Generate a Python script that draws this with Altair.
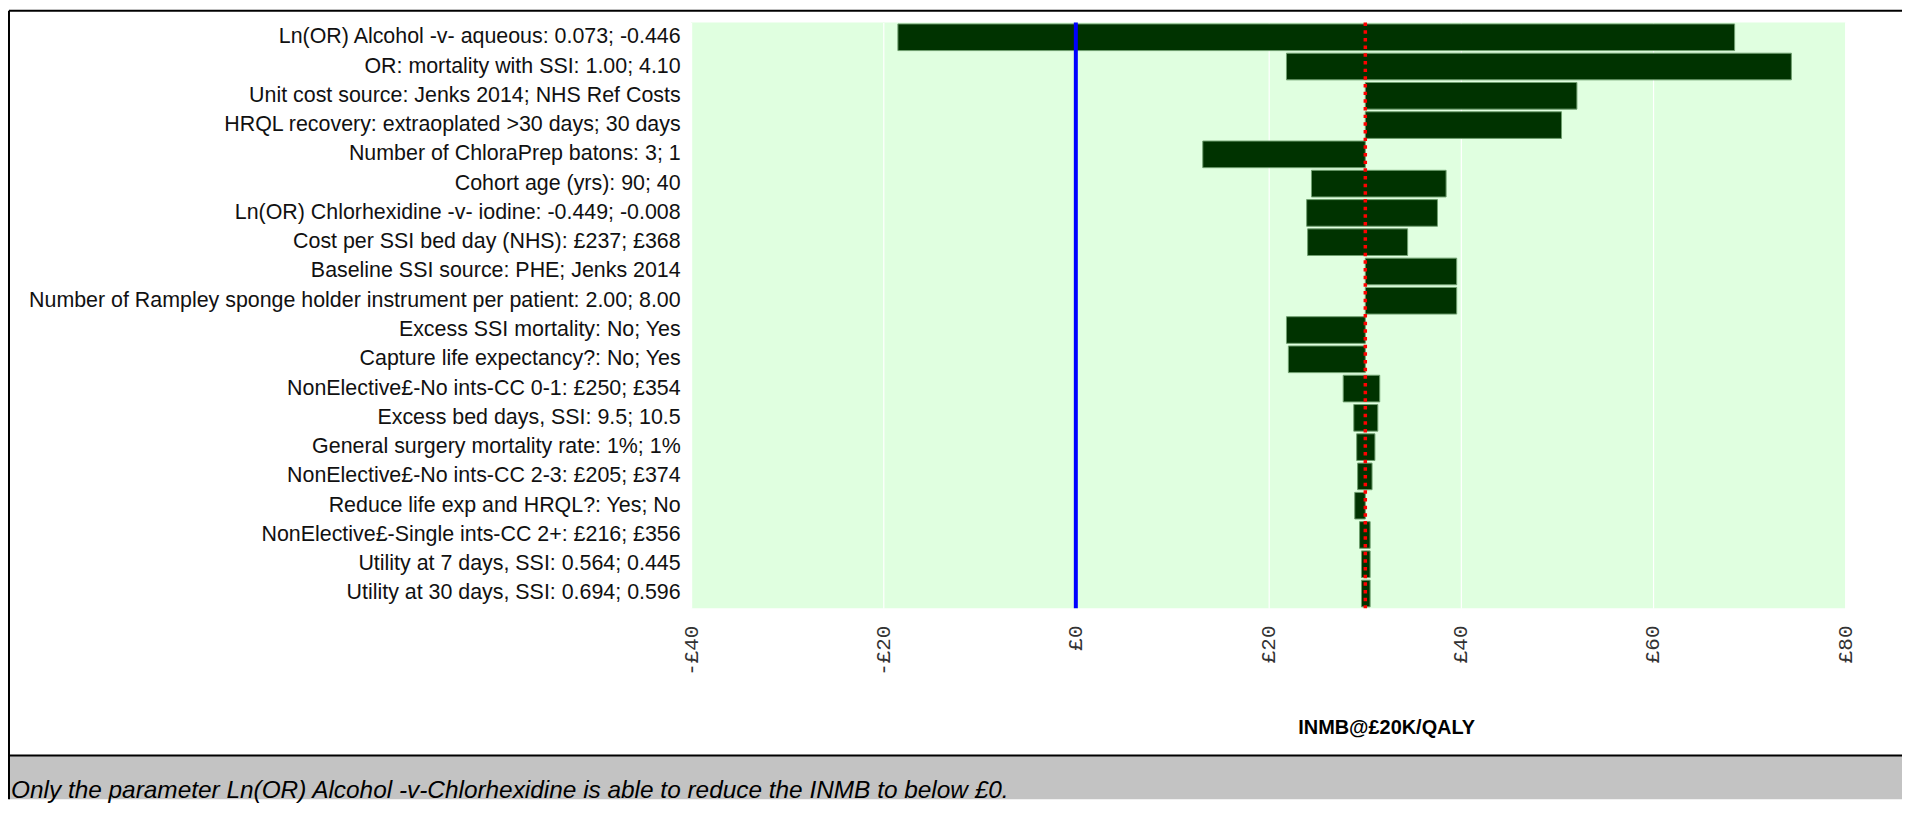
import altair as alt
import pandas as pd

# ---- data ----
params = [
    "Ln(OR) Alcohol -v- aqueous: 0.073; -0.446",
    "OR: mortality with SSI: 1.00; 4.10",
    "Unit cost source: Jenks 2014; NHS Ref Costs",
    "HRQL recovery: extraoplated >30 days; 30 days",
    "Number of ChloraPrep batons: 3; 1",
    "Cohort age (yrs): 90; 40",
    "Ln(OR) Chlorhexidine -v- iodine: -0.449; -0.008",
    "Cost per SSI bed day (NHS): £237; £368",
    "Baseline SSI source: PHE; Jenks 2014",
    "Number of Rampley sponge holder instrument per patient: 2.00; 8.00",
    "Excess SSI mortality: No; Yes",
    "Capture life expectancy?: No; Yes",
    "NonElective£-No ints-CC 0-1: £250; £354",
    "Excess bed days, SSI: 9.5; 10.5",
    "General surgery mortality rate: 1%; 1%",
    "NonElective£-No ints-CC 2-3: £205; £374",
    "Reduce life exp and HRQL?: Yes; No",
    "NonElective£-Single ints-CC 2+: £216; £356",
    "Utility at 7 days, SSI: 0.564; 0.445",
    "Utility at 30 days, SSI: 0.694; 0.596",
]
bar_left = [-18.5, 21.9, 30.1, 30.1, 13.2, 24.5, 24.0, 24.1, 30.1, 30.1,
            21.9, 22.1, 27.8, 28.9, 29.2, 29.3, 29.0, 29.5, 29.7, 29.7]
bar_right = [68.5, 74.4, 52.1, 50.5, 30.1, 38.5, 37.6, 34.5, 39.6, 39.6,
             30.1, 30.1, 31.6, 31.4, 31.1, 30.8, 30.1, 30.6, 30.6, 30.6]
base_inmb = 30.1
zero_line = 0
x_ticks = [-40, -20, 0, 20, 40, 60, 80]
x_title = "INMB@£20K/QALY"
caption = "Only the parameter Ln(OR) Alcohol -v-Chlorhexidine is able to reduce the INMB to below £0."

df = pd.DataFrame({"param": params, "lo": bar_left, "hi": bar_right})
one = pd.DataFrame({"k": [0]})

W, H = 1159, 588
L0 = -685          # frame left, relative to plot left
T0 = -12           # frame top, relative to plot top
SEP = 736          # separator line, relative to plot top
BOT = 780
RIGHT = 1216

xscale = alt.Scale(domain=[-40, 80], nice=False, zero=False)

bars = alt.Chart(df).mark_bar(
    color="#003300", stroke="#6f9f6f", strokeWidth=1
).encode(
    x=alt.X("lo:Q", scale=xscale, axis=alt.Axis(
        values=x_ticks, grid=True, gridColor="white", gridWidth=1.2,
        domain=False, ticks=False, labelAngle=270, labelPadding=17,
        labelFont="Liberation Mono, DejaVu Sans Mono", labelFontSize=21,
        labelColor="#333333",
        labelExpr="datum.value < 0 ? '-£' + abs(datum.value) : '£' + datum.value",
        title=x_title, titleFont="Liberation Sans, Arial", titleFontSize=20,
        titleFontWeight="bold", titleColor="black", titleX=698, titleY=120,
        titleBaseline="middle", titleAlign="center")),
    x2="hi:Q",
    y=alt.Y("param:N", sort=params, scale=alt.Scale(paddingInner=0.09, paddingOuter=0.045),
            axis=alt.Axis(title=None, domain=False, ticks=False, labelPadding=11,
                          labelLimit=900, labelFont="Liberation Sans, Arial",
                          labelFontSize=21.5, labelColor="#111111")),
)

blue = alt.Chart(one).mark_rule(color="#0000ff", strokeWidth=4).encode(
    x=alt.datum(zero_line, scale=xscale))
red = alt.Chart(one).mark_rule(color="#ff0000", strokeWidth=3.5, strokeDash=[3.5, 4.2]).encode(
    x=alt.datum(base_inmb, scale=xscale))

# decorations: frame and caption band
gray = alt.Chart(one).mark_rect(fill="#c3c3c3").encode(
    x=alt.value(L0), x2=alt.value(RIGHT), y=alt.value(SEP), y2=alt.value(BOT))
top_line = alt.Chart(one).mark_rule(color="black", strokeWidth=2).encode(
    x=alt.value(L0), x2=alt.value(RIGHT), y=alt.value(T0))
sep_line = alt.Chart(one).mark_rule(color="black", strokeWidth=2).encode(
    x=alt.value(L0), x2=alt.value(RIGHT), y=alt.value(SEP))
left_line = alt.Chart(one).mark_rule(color="black", strokeWidth=2).encode(
    x=alt.value(L0), y=alt.value(T0), y2=alt.value(BOT))
cap = alt.Chart(one).mark_text(
    align="left", baseline="middle", fontStyle="italic", fontSize=24.5,
    font="Liberation Sans, Arial", color="black"
).encode(x=alt.value(L0 + 2), y=alt.value(SEP + 36), text=alt.value(caption))

chart = alt.layer(gray, top_line, sep_line, left_line, bars, blue, red, cap).properties(
    width=W, height=H, padding=0, background="white"
).configure_view(fill="#e0ffe0", strokeWidth=0)

chart.save("out.html", embed_options={"renderer": "svg", "actions": False})
